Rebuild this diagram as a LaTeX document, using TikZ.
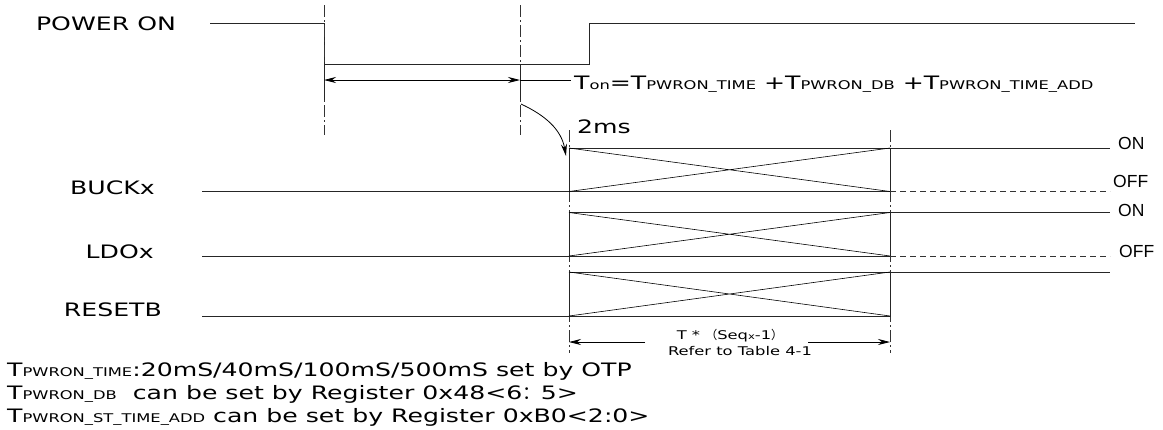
\documentclass[tikz,border=0pt]{standalone}
\usepackage{fontspec}
\setmainfont{DejaVu Sans}[FakeStretch=1.36]
\newfontfamily\onoff{Liberation Sans}
\newfontfamily\cjk{Noto Sans CJK SC}
\usetikzlibrary{arrows.meta}
\usetikzlibrary{positioning}
\tikzset{
    wave/.style={line width=0.9pt, draw=black!85},
    guide/.style={line width=0.7pt, draw=black!80,
           dash pattern=on 12pt off 3pt on 2pt off 3pt},
    offdash/.style={line width=0.9pt, draw=black!80,
           dash pattern=on 6pt off 4pt},
    dimline/.style={line width=0.8pt},
    signame/.style={inner sep=0pt, font=\fontsize{18.5}{22}\selectfont},
    note/.style={inner sep=0pt, font=\fontsize{18.5}{22}\selectfont},
    small/.style={inner sep=0pt, font=\fontsize{12}{14}\selectfont},
    level/.style={inner sep=0pt, anchor=west,
           font=\onoff\fontsize{17.5}{20}\selectfont},
}
\newcommand{\lo}[1]{{\fontsize{12}{12}\selectfont #1}}

\begin{document}
\begin{tikzpicture}[x=1pt,y=1pt,>={Stealth[length=12pt,width=6pt]}]
 \useasboundingbox (0,0) rectangle (1163,-429);

 % signal names
 \node[signame] (PWR) at (106,-23.5) {POWER ON};
 \node[signame, anchor=east] (BUCK) at (155,-188) {BUCKx};
 \node[signame, anchor=east] (LDO) at (154,-252) {LDOx};
 \node[signame, anchor=east] (RESETB) at (162,-310) {RESETB};

 % power on input
 \draw[wave] (210,-23) -- (324,-23) -- (324,-64) -- (589,-64)
   -- (589,-23) -- (1135,-23);

 % guides
 \draw[guide] (324,-5) -- (324,-135);
 \draw[guide] (520,-5) -- (520,-135);
 \draw[wave] (324,-64) -- (324,-100);
 \draw[wave] (520,-64) -- (520,-100);
 \draw[guide] (569,-130) -- (569,-353);
 \draw[guide] (890,-130) -- (890,-353);

 % T_on
 \coordinate (ONSTART) at (324,-80);
 \coordinate (ONEND) at (520,-80);
 \node[note, anchor=base west] (TON) at (574,-89)
   {T\lo{on}=T\lo{PWRON\_TIME} +T\lo{PWRON\_DB} +T\lo{PWRON\_TIME\_ADD}};
 \draw[<->, dimline] (ONSTART) -- (ONEND);
 \draw[dimline] (ONEND) -- ([xshift=-3pt]TON.west |- ONEND);

 % 2ms delay
 \coordinate (DLYSTART) at (521,-104);
 \coordinate (DLYEND) at (566,-156);
 \draw[->, dimline] (DLYSTART) to[out=-25,in=100] (DLYEND);
 \node[note, anchor=west] (TWOMS) at (577,-127) {2ms};

 % ramp boxes
 \foreach \ya/\yb in {148/191.5, 212.5/256, 272/316} {
   \draw[wave] (569,-\ya) rectangle (890,-\yb);
   \draw[line width=0.6pt] (569,-\ya) -- (890,-\yb)
     (569,-\yb) -- (890,-\ya);
 }

 % rails
 \draw[wave] (202,-191.5) -- (569,-191.5);
 \draw[wave] (890,-148) -- (1110,-148);
 \draw[offdash] (890,-191.5) -- (1110,-191.5);
 \draw[wave] (202,-256) -- (569,-256);
 \draw[wave] (890,-212.5) -- (1110,-212.5);
 \draw[offdash] (890,-256) -- (1110,-256);
 \draw[wave] (202,-316) -- (569,-316);
 \draw[wave] (890,-272) -- (1110,-272);

 \node[level] (BUCKON) at (1118,-143) {ON};
 \node[level] (BUCKOFF) at (1113,-181) {OFF};
 \node[level] (LDOON) at (1118,-210) {ON};
 \node[level] (LDOOFF) at (1119,-251) {OFF};

 % sequence time
 \node[small, anchor=base] (SEQ) at (730,-339)
   {T * {\cjk （}Seq{\fontsize{8.5}{8.5}\selectfont x}-1{\cjk ）}};
 \node[small, anchor=base] (REF) at (740,-355) {Refer to Table 4-1};
 \coordinate (GAPL) at (645,-342);
 \coordinate (GAPR) at (808,-342);
 \coordinate (SEQL) at (569,-342);
 \coordinate (SEQR) at (890,-342);
 \draw[->, dimline] (GAPL) -- (SEQL);
 \draw[->, dimline] (GAPR) -- (SEQR);

 % notes
 \node[note, anchor=base west] (NOTEA) at (7,-376)
   {T\lo{PWRON\_TIME}:20mS/40mS/100mS/500mS set by OTP};
 \node[note, anchor=base west] (NOTEB) at (7,-399)
   {T\lo{PWRON\_DB}\ \ can be set by Register 0x48<6{\cjk ：}5>};
 \node[note, anchor=base west] (NOTEC) at (7,-422)
   {T\lo{PWRON\_ST\_TIME\_ADD} can be set by Register 0xB0<2:0>};
\end{tikzpicture}
\end{document}
